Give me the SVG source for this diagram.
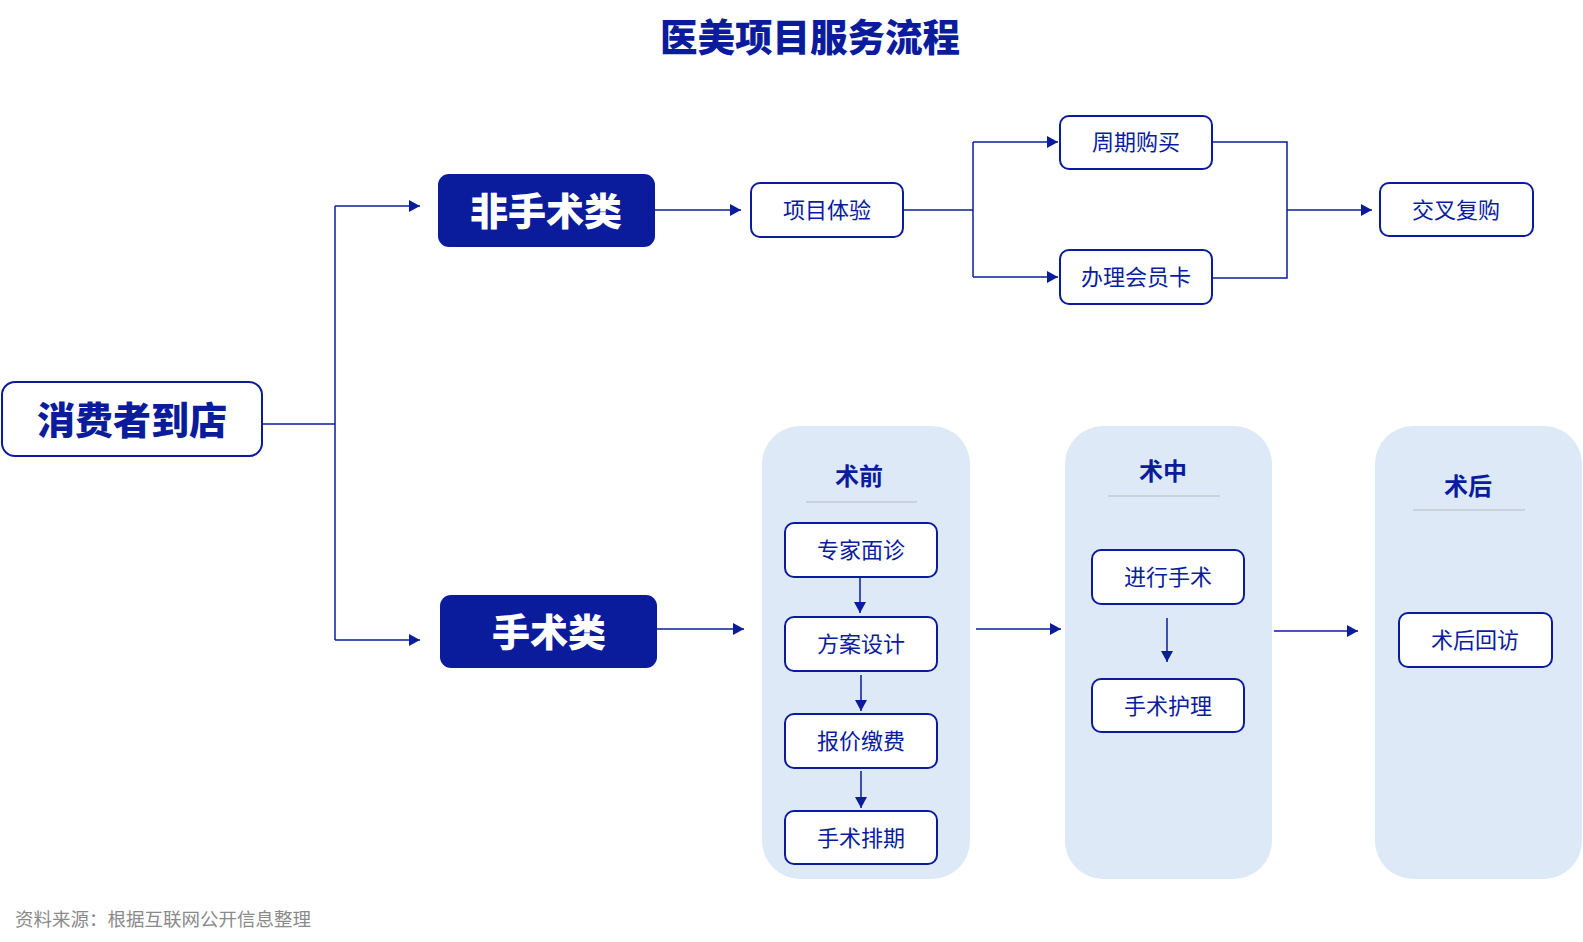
<svg xmlns="http://www.w3.org/2000/svg" width="1583" height="942" viewBox="0 0 1583 942">
<defs>
<marker id="arr" markerUnits="userSpaceOnUse" markerWidth="12" markerHeight="12" refX="11" refY="6" orient="auto">
<path d="M0,0 L11,6 L0,12 z" fill="#0a1c9c"/>
</marker>
<style>
text{font-family:"Noto Sans CJK SC","Noto Sans",sans-serif;text-anchor:middle;dominant-baseline:central}
.big{font-size:38px;font-weight:900}
.bw{fill:#ffffff}
.bb{fill:#0a1c9c}
.dark{fill:#0a1c9c;stroke:none}
.wbox{fill:#ffffff;stroke:#0a1c9c;stroke-width:2}
.sm{font-size:22px;fill:#0a1c9c}
.pt{font-size:24px;font-weight:700;fill:#0a1c9c}
.panel{fill:#dde9f7}
.ul{stroke:#c9d3d9;stroke-width:2}
.con{fill:none;stroke:#0a1c9c;stroke-width:1.5}
</style>
</defs>
<rect width="1583" height="942" fill="#ffffff"/>
<text x="810" y="34" class="big bb" style="font-size:37.5px">医美项目服务流程</text>

<g id="panel-pre"><rect class="panel" x="762" y="426" width="208" height="453" rx="38"/><text x="859" y="474" class="pt">术前</text><line class="ul" x1="806" y1="502" x2="917" y2="502"/></g>
<g id="panel-mid"><rect class="panel" x="1065" y="426" width="207" height="453" rx="38"/><text x="1163" y="469" class="pt">术中</text><line class="ul" x1="1108" y1="496" x2="1220" y2="496"/></g>
<g id="panel-post"><rect class="panel" x="1375" y="426" width="207" height="453" rx="38"/><text x="1468" y="484" class="pt">术后</text><line class="ul" x1="1413" y1="510" x2="1525" y2="510"/></g>

<g id="connectors">
<path class="con" d="M262,424 H335"/>
<path class="con" d="M335,206 V640"/>
<path class="con" d="M335,206 H420" marker-end="url(#arr)"/>
<path class="con" d="M335,640 H420" marker-end="url(#arr)"/>
<path class="con" d="M655,210 H741" marker-end="url(#arr)"/>
<path class="con" d="M903,210 H973"/>
<path class="con" d="M973,142 V277"/>
<path class="con" d="M973,142 H1058" marker-end="url(#arr)"/>
<path class="con" d="M973,277 H1058" marker-end="url(#arr)"/>
<path class="con" d="M1212,142 H1287 V278 H1212"/>
<path class="con" d="M1287,210 H1372" marker-end="url(#arr)"/>
<path class="con" d="M657,629 H744" marker-end="url(#arr)"/>
<path class="con" d="M976,629 H1061" marker-end="url(#arr)"/>
<path class="con" d="M1274,631 H1358" marker-end="url(#arr)"/>
<path class="con" d="M860,578 V613" marker-end="url(#arr)"/>
<path class="con" d="M861,675 V711" marker-end="url(#arr)"/>
<path class="con" d="M861,771 V808" marker-end="url(#arr)"/>
<path class="con" d="M1167,618 V662" marker-end="url(#arr)"/>
</g>

<g id="n-arrive"><rect class="wbox" x="2" y="382" width="260" height="74" rx="13"/><text x="132" y="417" class="big bb">消费者到店</text></g>
<g id="n-nonsurg"><rect class="dark" x="438" y="174" width="217" height="73" rx="11"/><text x="546" y="208" class="big bw">非手术类</text></g>
<g id="n-surg"><rect class="dark" x="440" y="595" width="217" height="73" rx="11"/><text x="549" y="629" class="big bw">手术类</text></g>
<g id="n-exp"><rect class="wbox" x="751" y="183" width="152" height="54" rx="9"/><text x="827" y="208" class="sm">项目体验</text></g>
<g id="n-cycle"><rect class="wbox" x="1060" y="116" width="152" height="53" rx="9"/><text x="1136" y="140" class="sm">周期购买</text></g>
<g id="n-member"><rect class="wbox" x="1060" y="250" width="152" height="54" rx="9"/><text x="1136" y="275" class="sm">办理会员卡</text></g>
<g id="n-cross"><rect class="wbox" x="1380" y="183" width="153" height="53" rx="9"/><text x="1456" y="208" class="sm">交叉复购</text></g>
<g id="n-consult"><rect class="wbox" x="785" y="523" width="152" height="54" rx="9"/><text x="861" y="548" class="sm">专家面诊</text></g>
<g id="n-plan"><rect class="wbox" x="785" y="617" width="152" height="54" rx="9"/><text x="861" y="642" class="sm">方案设计</text></g>
<g id="n-pay"><rect class="wbox" x="785" y="714" width="152" height="54" rx="9"/><text x="861" y="739" class="sm">报价缴费</text></g>
<g id="n-schedule"><rect class="wbox" x="785" y="811" width="152" height="53" rx="9"/><text x="861" y="836" class="sm">手术排期</text></g>
<g id="n-operate"><rect class="wbox" x="1092" y="550" width="152" height="54" rx="9"/><text x="1168" y="575" class="sm">进行手术</text></g>
<g id="n-care"><rect class="wbox" x="1092" y="679" width="152" height="53" rx="9"/><text x="1168" y="704" class="sm">手术护理</text></g>
<g id="n-follow"><rect class="wbox" x="1399" y="613" width="153" height="54" rx="9"/><text x="1475" y="638" class="sm">术后回访</text></g>

<text x="15" y="918" style="font-size:18.5px;fill:#8a8a8a;text-anchor:start">资料来源：根据互联网公开信息整理</text>
</svg>
